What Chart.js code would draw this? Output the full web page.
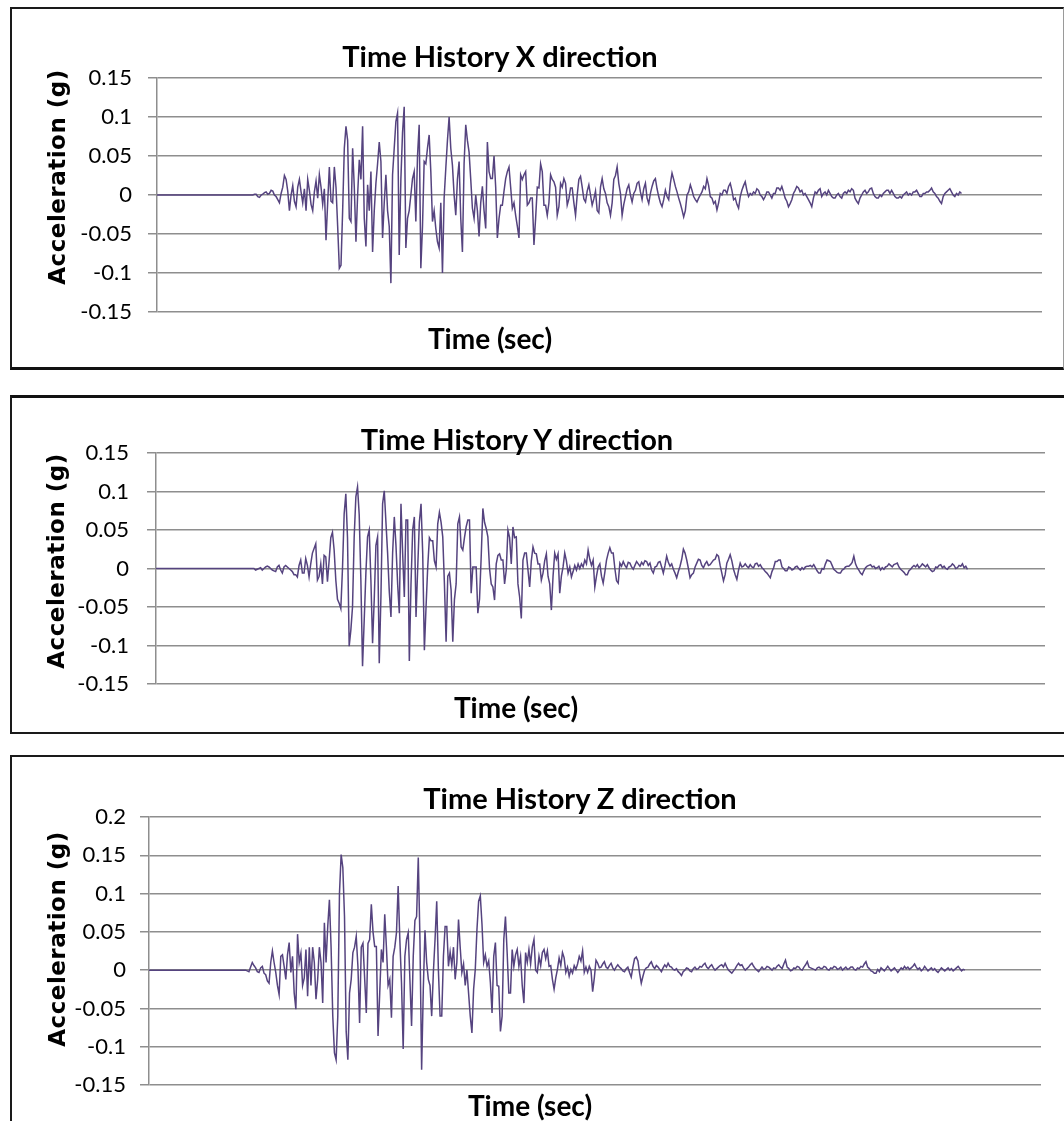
<!DOCTYPE html>
<html>
<head>
<meta charset="utf-8">
<title>Time History</title>
<script src="https://cdn.jsdelivr.net/npm/chart.js@4.4.1/dist/chart.umd.min.js"></script>
<style>
  html, body { margin: 0; padding: 0; background: #fff; }
  body { position: relative; width: 1064px; height: 1121px; overflow: hidden; }
  .panel { position: absolute; left: 10px; border-left: 2px solid #1a1a1a; box-sizing: border-box; }
  #p1 { top: 7px; width: 1054px; height: 363px; border-top: 2px solid #1a1a1a; border-bottom: 3px solid #111; border-right: 1px solid #9a9a9a; }
  #p2 { top: 395px; width: 1054px; height: 339px; border-top: 3px solid #111; border-bottom: 2px solid #1a1a1a; }
  #p3 { top: 755px; width: 1054px; height: 366px; border-top: 2px solid #1a1a1a; }
  canvas { position: absolute; left: 0; }
  .cap, .ylab { position: absolute; font-weight: bold; color: #000; white-space: nowrap; line-height: 1; }
  .cap { font-family: Lato, sans-serif; transform: translate(-50%, -50%); }
  .title { font-size: 29px; }
  .xlab { font-size: 28px; }
  .ylab { font-family: "DejaVu Sans", sans-serif; font-size: 23px; letter-spacing: 0.5px; transform: translate(-50%, -50%) rotate(-90deg); }
</style>
</head>
<body>
<div class="panel" id="p1"></div>
<div class="panel" id="p2"></div>
<div class="panel" id="p3"></div>

<canvas id="chartX" width="1064" height="361" style="top:8px"></canvas>
<canvas id="chartY" width="1064" height="336" style="top:397px"></canvas>
<canvas id="chartZ" width="1064" height="364" style="top:757px"></canvas>

<div class="cap title" style="left:500px; top:55px">Time History X direction</div>
<div class="cap xlab" style="left:490px; top:338px">Time (sec)</div>
<div class="ylab" style="left:57px; top:177px">Acceleration (g)</div>

<div class="cap title" style="left:517px; top:438px">Time History Y direction</div>
<div class="cap xlab" style="left:516px; top:707px">Time (sec)</div>
<div class="ylab" style="left:56px; top:561px">Acceleration (g)</div>

<div class="cap title" style="left:580px; top:797px">Time History Z direction</div>
<div class="cap xlab" style="left:530px; top:1105px">Time (sec)</div>
<div class="ylab" style="left:57px; top:939px">Acceleration (g)</div>

<script>
// quiet lead-in, then samples every 0.05 s
const onsetSec = 2.88;
const dtSec = 0.05;
const timeMax = 26.6;

const ticksXY = [-0.15, -0.1, -0.05, 0, 0.05, 0.1, 0.15];
const ticksZ = [-0.15, -0.1, -0.05, 0, 0.05, 0.1, 0.15, 0.2];

// acceleration (g)
const accX = [
  0, 0.001, 0.001, -0.002, -0.003, 0.0, 0.001, 0.003, 0.004, 0.001, 0.002, 0.006, 0.005, 0.0, -0.002, -0.006, -0.01, 0.002, 0.01, 0.025,
  0.02, 0.005, -0.02, 0.0, 0.012, -0.008, -0.015, 0.01, 0.02, 0.004, -0.01, 0.008, -0.02, 0.02, 0.006, -0.012, -0.02, 0.004, 0.018, -0.004,
  0.026, 0.01, -0.012, 0.008, -0.058, -0.01, 0.036, -0.008, -0.01, 0.036, 0.01, -0.04, -0.094, -0.09, -0.02, 0.06, 0.088, 0.07, -0.03, -0.034,
  0.06, 0.01, -0.06, 0.0, 0.045, 0.02, 0.088, -0.03, -0.066, 0.013, -0.02, 0.03, -0.073, -0.02, 0.015, 0.04, 0.068, 0.043, -0.055, -0.01,
  0.026, -0.02, -0.04, -0.113, 0.026, 0.06, 0.094, 0.105, -0.077, 0.02, 0.08, 0.113, -0.068, -0.03, -0.02, 0.0, 0.021, 0.03, -0.034, 0.05,
  0.09, -0.094, -0.04, 0.043, 0.04, 0.06, 0.077, 0.03, -0.034, -0.02, -0.043, -0.06, -0.068, -0.01, -0.1, -0.004, 0.034, 0.07, 0.1, 0.06,
  0.038, 0.0, -0.026, 0.02, 0.043, -0.03, -0.073, 0.04, 0.09, 0.07, 0.055, 0.02, -0.017, -0.03, 0.0, -0.02, -0.053, -0.01, 0.011, -0.02,
  -0.043, 0.068, 0.03, 0.021, 0.021, 0.05, 0.01, -0.055, -0.03, -0.013, -0.013, 0.005, 0.021, 0.03, 0.036, 0.01, -0.017, -0.01, -0.026, -0.04,
  -0.055, 0.026, 0.02, 0.026, 0.03, -0.013, -0.01, -0.004, -0.004, -0.064, -0.03, 0.01, 0.009, 0.04, 0.03, -0.013, -0.013, -0.026, -0.01, 0.026,
  0.02, 0.017, 0.01, -0.026, -0.015, 0.015, 0.01, 0.021, 0.015, -0.013, -0.005, 0.009, 0.009, -0.01, -0.026, 0.0, 0.02, 0.024, 0.01, -0.005,
  -0.009, 0.005, 0.013, 0.0, -0.013, -0.005, 0.005, -0.02, -0.023,
  0.01, 0.021, 0.008, 0.002, -0.01, -0.015, -0.026, -0.01, 0.02, 0.025, 0.036, 0.015, 0.002, -0.026, -0.012, -0.002, 0.008, 0.013, 0.0, -0.009,
  0.002, 0.006, 0.015, 0.017, 0.004, -0.006, 0.008, 0.015, -0.004, -0.011, 0.002, 0.011, 0.018, 0.021, 0.008, -0.002, -0.01, -0.015, -0.006, 0.006,
  -0.002, -0.006, 0.015, 0.028, 0.02, 0.011, 0.004, -0.004, -0.011, -0.019, -0.028, -0.02, 0.0, 0.004, 0.013, 0.006, -0.002, -0.006, -0.009, -0.004,
  0.0, 0.004, 0.011, 0.008, 0.021, 0.012, -0.002, -0.004, -0.011, -0.008, -0.019, -0.01, 0.002, 0.0, 0.006, 0.006, 0.002, 0.011, 0.015, 0.006,
  -0.006, -0.004, -0.012, -0.017, -0.002, 0.006, 0.012, 0.017, 0.006, -0.002, 0.002, 0.0, 0.004, 0.002, 0.008, 0.006, 0.0, -0.002, -0.006, -0.002,
  0.004, 0.004, 0.0, -0.004, 0.002, 0.002, 0.009, 0.009, 0.006, 0.011, 0.004, -0.004, -0.008, -0.015, -0.011, -0.006, 0.002, 0.006, 0.011, 0.009,
  0.004, 0.006, 0.0, 0.002, -0.002, -0.006, -0.01, -0.015, -0.004, 0.004, 0.002, 0.006, 0.008, -0.002, 0.002, 0.004, 0.0, 0.006, 0.002, -0.002,
  -0.004, -0.004, 0.0, 0.002, -0.002, -0.004, 0.002, 0.004, 0.002, 0.006, 0.004, 0.008, 0.006, -0.004, -0.008, -0.011, -0.004, 0.0, 0.004, 0.006,
  0.002, 0.004, 0.008, 0.009, 0.002, -0.002, -0.004, -0.004, 0.0, -0.002, 0.002, 0.004, 0.006, 0.006, 0.002, 0.006, 0.002, -0.002, -0.004, -0.004,
  -0.002, -0.004, 0.0, 0.002, 0.004, 0.0, 0.002, 0.0, 0.004, 0.004, 0.006, 0.002, -0.002, -0.002, 0.002, 0.002, 0.004, 0.004, 0.006, 0.009,
  0.004, 0.002, -0.002, -0.004, -0.008, -0.011, -0.002, 0.002, 0.004, 0.006, 0.008, 0.004, 0.0, -0.002, 0.002, 0.0, 0.004, 0.002
];

const accY = [
  0, 0.0, -0.002, -0.001, 0.0, 0.001, -0.002, 0.0, 0.002, 0.003, 0.002, 0.0, -0.002, -0.003, -0.004, 0.002, 0.004, -0.002, -0.006, 0.002,
  0.004, 0.002, 0.0, -0.002, -0.004, -0.008, -0.008, -0.011, 0.004, 0.011, -0.006, -0.006, 0.013, 0.004, -0.011, 0.006, 0.02, 0.026, 0.032, -0.015,
  -0.01, 0.006, -0.02, 0.017, 0.015, -0.017, 0.01, 0.04, 0.047, 0.024, -0.015, -0.04, -0.045, -0.052, 0.0, 0.071, 0.097, 0.04, -0.101, -0.08,
  -0.05, 0.041, 0.093, 0.106, 0.07, -0.015, -0.127, -0.067, -0.006, 0.041, 0.05, -0.015, -0.097, -0.04, 0.03, 0.041, -0.123, -0.037, 0.084, 0.101,
  0.06, 0.02, -0.03, -0.063, 0.02, 0.067, 0.03, -0.02, -0.058, 0.084, 0.02, -0.037, 0.063, 0.063, -0.12, -0.02, 0.05, 0.067, -0.063, 0.0,
  0.06, 0.084, 0.02, -0.106, -0.05, 0.002, 0.04, 0.036, 0.036, 0.01, 0.002, 0.058, 0.073, 0.06, 0.041, -0.02, -0.095, -0.01, -0.006, -0.028,
  -0.095, -0.04, -0.02, 0.058, 0.067, 0.028, 0.024, 0.04, 0.054, 0.063, 0.063, -0.032, 0.002, 0.002, 0.002, -0.058, -0.04, 0.015, 0.078, 0.06,
  0.052, 0.041, 0.0, -0.02, -0.024, -0.041, 0.006, 0.017, 0.019, 0.011, 0.011, -0.02, -0.002, 0.05, 0.04, 0.006, 0.054, 0.04, 0.041, -0.02,
  -0.037, -0.065, 0.011, 0.02, 0.02, -0.002, -0.024, 0.01, 0.028, 0.02, 0.019, 0.006, 0.006, -0.015, -0.006, 0.01, 0.019, -0.01, -0.02, -0.054,
  -0.01, 0.02, 0.012, 0.019, -0.032, -0.01, 0.002, 0.02, 0.01, -0.006, 0.002, -0.011, -0.004, 0.004, -0.002, 0.006, 0.0, 0.006, 0.002, 0.011,
  0.006, 0.024, 0.012, 0.004, 0.011, -0.024, -0.01, 0.002, 0.006,
  -0.01, -0.019, -0.005, 0.011, 0.02, 0.027, 0.02, 0.02, 0.0, -0.016, -0.019, 0.007, 0.003, 0.009, 0.004, 0.001, 0.008, 0.007, 0.002, -0.001,
  0.004, 0.009, 0.006, 0.003, 0.008, 0.005, 0.01, 0.009, 0.004, 0.007, -0.002, -0.006, 0.002, 0.003, 0.008, 0.009, 0.002, -0.006, 0.004, 0.016,
  0.008, 0.003, 0.006, -0.001, -0.006, -0.012, -0.004, 0.003, 0.012, 0.025, 0.02, 0.011, 0.0, -0.012, -0.008, -0.006, 0.002, 0.007, 0.012, 0.011,
  0.004, 0.001, 0.006, 0.009, 0.004, 0.005, 0.008, 0.011, 0.012, 0.018, 0.016, 0.004, -0.006, -0.016, -0.008, 0.007, 0.012, 0.018, 0.01, -0.001,
  -0.008, -0.014, -0.002, 0.007, 0.002, 0.003, 0.006, 0.003, 0.001, 0.005, 0.002, 0.001, 0.006, 0.007, 0.003, 0.005, 0.001, -0.001, -0.004, -0.006,
  -0.009, -0.012, -0.004, 0.001, 0.009, 0.009, 0.011, 0.011, 0.002, 0.0, -0.003, -0.003, 0.002, 0.001, -0.002, -0.001, 0.002, 0.003, 0.0, -0.002,
  0.001, -0.001, 0.002, 0.003, 0.003, 0.004, 0.002, 0.005, 0.001, -0.003, -0.006, -0.006, 0.0, -0.001, 0.006, 0.011, 0.01, 0.009, 0.004, -0.001,
  -0.003, -0.005, -0.006, -0.006, -0.002, -0.001, 0.002, 0.003, 0.003, 0.005, 0.008, 0.016, 0.006, 0.001, -0.002, -0.006, -0.008, -0.003, 0.001, 0.003,
  0.004, 0.005, 0.002, 0.003, 0.0, 0.001, 0.003, -0.002, 0.001, -0.001, 0.002, 0.003, 0.006, 0.004, 0.002, 0.005, 0.006, 0.007, 0.002, -0.001,
  -0.003, -0.005, -0.008, -0.008, -0.003, -0.001, 0.002, 0.004, 0.002, 0.005, 0.001, 0.003, 0.006, 0.004, 0.002, 0.005, 0.001, -0.002, -0.004, -0.003,
  0.002, 0.001, 0.004, 0.005, 0.001, 0.003, 0.0, -0.001, 0.002, 0.003, 0.006, 0.004, 0.0, 0.001, 0.004, 0.003, 0.006, 0.001, 0.003, -0.001
];

const accZ = [
  0, -0.001, -0.002, 0.004, 0.01, 0.006, 0.003, -0.002, -0.003, 0.003, 0.005, -0.004, -0.006, -0.014, -0.017, 0.01, 0.025, 0.01, -0.003, -0.02,
  -0.032, 0.018, 0.02, 0.005, -0.012, 0.02, 0.036, -0.003, 0.018, -0.03, -0.051, 0.047, 0.01, 0.022, -0.02, -0.01, 0.027, -0.034, 0.03, -0.02,
  0.03, 0.01, -0.038, -0.012, 0.03, 0.01, -0.043, 0.062, 0.01, 0.057, 0.092, 0.03, -0.06, -0.108, -0.117, -0.06, 0.1, 0.151, 0.134, 0.07,
  -0.08, -0.117, -0.03, -0.012, 0.023, 0.03, 0.044, 0.005, -0.069, 0.03, 0.035, -0.01, -0.056, 0.035, 0.04, 0.086, 0.05, 0.031, 0.031, -0.086,
  -0.03, 0.027, 0.01, 0.073, 0.03, -0.02, -0.012, -0.062, 0.018, 0.03, 0.049, 0.11, 0.04, -0.017, -0.103, 0.018, 0.04, 0.049, -0.012, -0.073,
  0.018, 0.065, 0.07, 0.147, 0.04, -0.13, -0.025, 0.052, 0.01, -0.012, -0.02, -0.06, -0.003, 0.04, 0.09, 0.0, -0.06, -0.06, 0.018, 0.057,
  0.057, 0.005, 0.024, 0.006, 0.03, -0.012, 0.01, 0.066, 0.03, -0.003, 0.008, -0.02, 0.0, -0.03, -0.06, -0.082, -0.025, 0.001, 0.053, 0.09,
  0.097, 0.06, 0.01, 0.02, 0.005, 0.012, -0.016, -0.056, 0.018, 0.036, -0.02, -0.021, -0.08, -0.06, 0.04, 0.07, 0.023, -0.03, -0.03, 0.027,
  0.005, 0.02, 0.027, 0.005, 0.018, -0.02, -0.043, 0.023, 0.01, 0.027, 0.008, 0.03, 0.04, 0.0, -0.003, 0.018, 0.006, 0.023, 0.027, 0.015,
  0.025, 0.005, 0.006, -0.012, -0.025, -0.01, 0.001, 0.016, 0.006, 0.023, 0.016, -0.003, 0.004, -0.008, 0.001, -0.004, 0.006, 0.001, 0.008, 0.018,
  0.012, 0.025, -0.003, 0.004, -0.003, 0.005, 0.0,
  -0.028, -0.01, 0.013, 0.009, 0.003, 0.004, 0.008, 0.011, 0.004, 0.002, 0.006, 0.009, 0.003, 0.0, 0.004, 0.007, 0.004, 0.002, -0.001, -0.002,
  0.002, 0.004, -0.003, -0.009, 0.004, 0.015, 0.017, 0.012, -0.004, -0.017, -0.008, 0.0, 0.003, 0.004, 0.008, 0.011, 0.005, 0.002, 0.006, 0.004,
  0.001, -0.002, 0.003, 0.007, 0.004, 0.009, 0.005, 0.004, 0.001, 0.0, 0.002, -0.002, -0.004, -0.007, -0.002, 0.0, 0.003, 0.002, -0.001, -0.002,
  0.002, 0.004, 0.001, 0.002, 0.005, 0.004, 0.007, 0.009, 0.004, 0.002, 0.005, 0.007, 0.003, 0.0, 0.002, 0.004, 0.006, 0.007, 0.004, 0.009,
  0.004, 0.0, -0.002, -0.004, -0.001, 0.002, 0.006, 0.009, 0.006, 0.007, 0.003, 0.0, 0.002, 0.004, 0.007, 0.009, 0.005, 0.002, 0.0, -0.002,
  0.001, 0.004, 0.001, 0.002, 0.005, 0.004, 0.002, 0.0, 0.003, 0.002, 0.005, 0.007, 0.004, 0.002, 0.008, 0.013, 0.004, 0.002, -0.001, 0.0,
  0.003, 0.002, 0.005, 0.004, 0.001, 0.0, 0.004, 0.007, 0.011, 0.004, 0.003, 0.002, 0.001, 0.0, 0.003, 0.004, 0.002, 0.002, 0.005, 0.004,
  0.001, 0.0, 0.003, 0.002, 0.005, 0.004, 0.001, 0.002, 0.004, 0.0, 0.002, 0.004, 0.001, 0.002, 0.004, 0.004, 0.001, 0.0, 0.003, 0.002,
  0.005, 0.004, 0.008, 0.011, 0.004, 0.002, -0.001, -0.002, -0.004, -0.004, 0.001, -0.002, 0.003, 0.001, -0.001, 0.002, 0.005, 0.002, -0.001, 0.001,
  0.003, 0.0, -0.003, 0.0, 0.003, 0.001, 0.005, 0.002, 0.004, 0.001, 0.003, 0.005, 0.008, 0.004, 0.001, 0.003, -0.001, 0.001, 0.005, 0.002,
  -0.001, 0.001, 0.003, 0.0, 0.002, -0.001, -0.003, 0.0, 0.003, 0.001, -0.001, 0.001, 0.003, 0.0, 0.002, -0.001, 0.001, 0.003, 0.005, 0.002,
  -0.001, 0.001, 0.0
];

function toPoints(acc) {
  const pts = [{ x: 0, y: 0 }];
  acc.forEach((a, i) => pts.push({ x: onsetSec + i * dtSec, y: a }));
  return pts;
}

function makeChart(id, acc, ticks, box) {
  const gridGray = '#8e8e8e';
  return new Chart(document.getElementById(id), {
    type: 'line',
    data: {
      datasets: [{
        data: toPoints(acc),
        borderColor: '#55437f',
        borderWidth: 1.5,
        pointRadius: 0,
        tension: 0,
        fill: false
      }]
    },
    options: {
      responsive: false,
      animation: false,
      events: [],
      layout: { padding: { left: 40, right: box.right, top: box.top, bottom: box.bottom } },
      plugins: { legend: { display: false }, tooltip: { enabled: false } },
      scales: {
        x: { type: 'linear', min: 0, max: timeMax, display: false },
        y: {
          min: ticks[0],
          max: ticks[ticks.length - 1],
          afterBuildTicks: s => { s.ticks = ticks.map(v => ({ value: v })); },
          afterFit: s => { s.width = box.axisWidth; },
          grid: { color: gridGray, lineWidth: 1.5, tickLength: 9, tickColor: gridGray },
          border: { color: gridGray, width: 1.5 },
          ticks: {
            color: '#000',
            padding: box.tickPad,
            font: { family: 'Lato', size: 22 },
            callback: v => String(+Number(v).toFixed(2))
          }
        }
      }
    }
  });
}

document.addEventListener('DOMContentLoaded', function () {
  makeChart('chartX', accX, ticksXY, { axisWidth: 117, right: 22, top: 70, bottom: 57, tickPad: 16 });
  makeChart('chartY', accY, ticksXY, { axisWidth: 116, right: 19, top: 56, bottom: 49, tickPad: 18 });
  makeChart('chartZ', accZ, ticksZ, { axisWidth: 109, right: 23, top: 60, bottom: 36, tickPad: 14 });
});
</script>
</body>
</html>
